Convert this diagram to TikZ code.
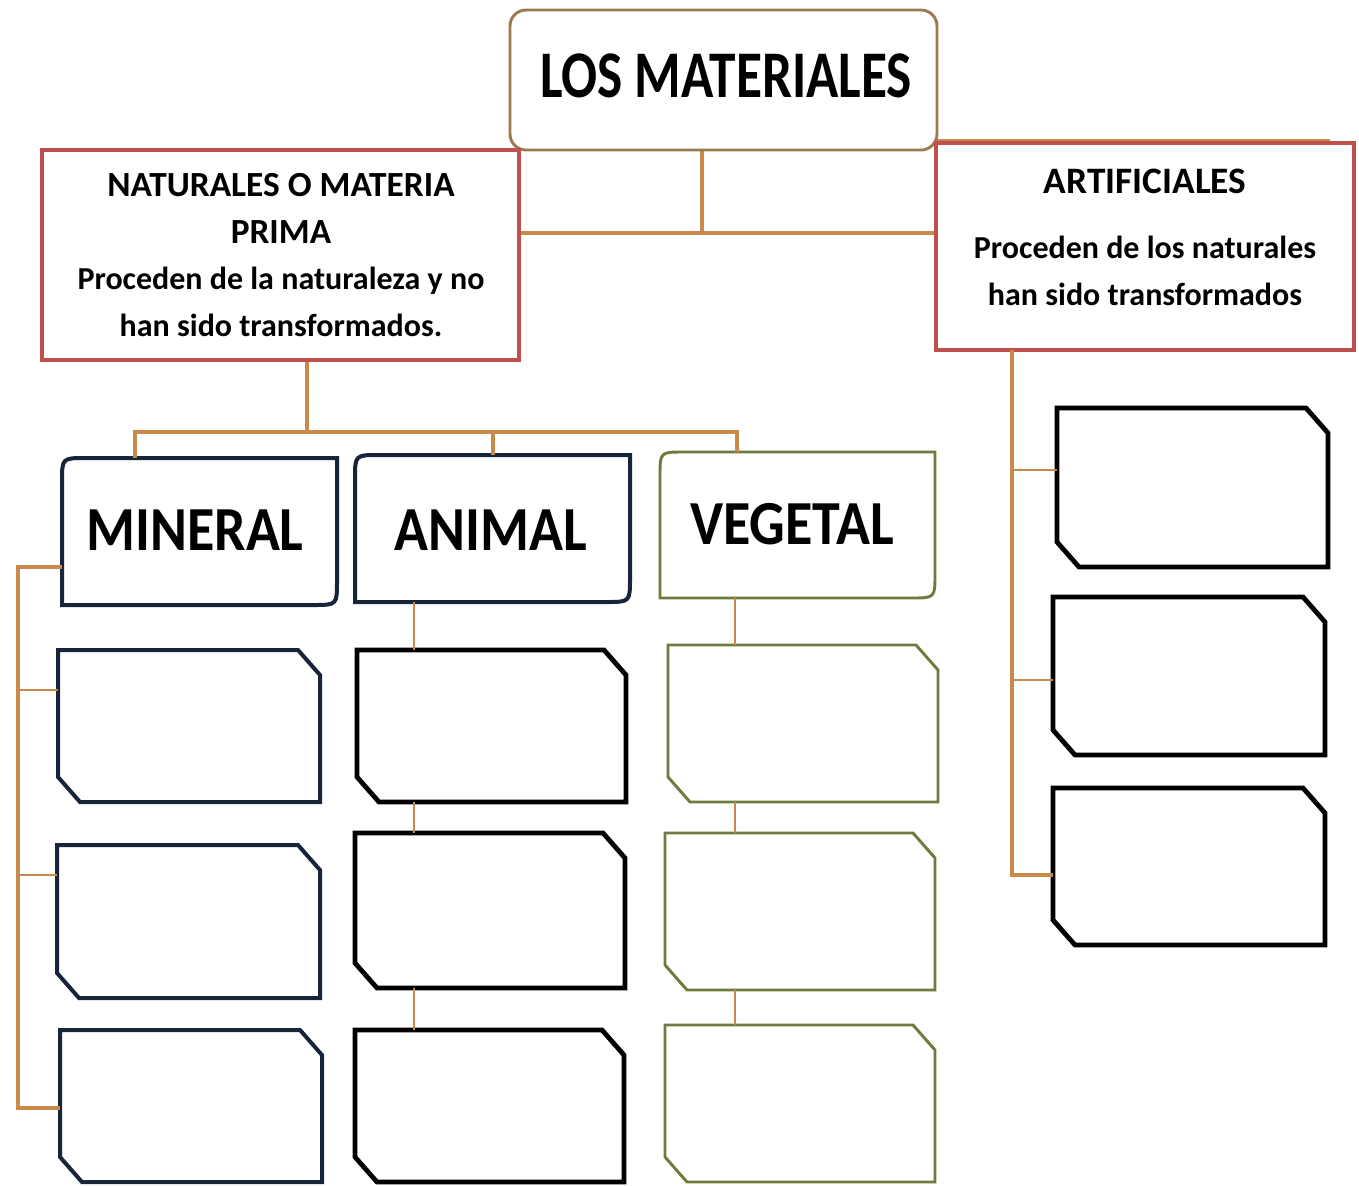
\documentclass[tikz,border=0pt]{standalone}
\usepackage{fontspec}
\usepackage{graphicx}
\setmainfont{Carlito}
\usetikzlibrary{fit,calc}
\definecolor{brownline}{HTML}{C8894B}
\definecolor{titleborder}{HTML}{9C7A50}
\definecolor{redborder}{HTML}{C0504D}
\definecolor{navy}{HTML}{17243A}
\definecolor{olive}{HTML}{6E7B3C}
\tikzset{
  conn/.style={draw=brownline, line width=3pt},
  connthin/.style={draw=brownline, line width=2.2pt},
  titlebox/.style={draw=titleborder, line width=2.2pt, fill=white, rounded corners=12pt},
  redbox/.style={draw=redborder, line width=3pt, fill=white},
  navybox/.style={draw=navy, line width=3pt, fill=white},
  olivebox/.style={draw=olive, line width=2.2pt, fill=white},
  blackbox/.style={draw=black, line width=3.6pt, fill=white},
  bigtext/.style={font=\bfseries\fontsize{42}{50}\selectfont, inner sep=0pt},
  midtext/.style={font=\bfseries\fontsize{24}{35}\selectfont, align=center, inner sep=0pt},
  fitbox/.style={inner sep=0pt, outer sep=0pt}
}
\newcommand\chbox[6]{%
  \draw[#6] (#2,#3) -- (#4-22,#3) -- (#4,#3+25) -- (#4,#5) -- (#2+22,#5) -- (#2,#5-25) -- cycle;
  \node[fitbox, fit={(#2,#3) (#4,#5)}] (#1) {};
}
\newcommand\catbox[6]{%
  \draw[#6] (#2,#3+24) .. controls (#2,#3) .. (#2+24,#3) -- (#4,#3) -- (#4,#5-24) .. controls (#4,#5) .. (#4-24,#5) -- (#2,#5) -- cycle;
  \node[fitbox, fit={(#2,#3) (#4,#5)}] (#1) {};
}
\begin{document}
\begin{tikzpicture}[x=0.75pt, y=-0.75pt]
\fill[white] (0,0) rectangle (1359,1185);
\useasboundingbox (0,0) rectangle (1359,1185);

% helper coordinates for connector routes
\coordinate (tb) at (702,233);
\coordinate (ar1) at (937,141);
\coordinate (ar2) at (1330,141);
\coordinate (nb) at (307,432);
\coordinate (nb1) at (135,432);
\coordinate (nb3) at (737,432);
\coordinate (mb) at (18,567);
\coordinate (mt1) at (18,690);
\coordinate (mt2) at (18,875);
\coordinate (mt3) at (18,1108);
\coordinate (ax) at (414,0);
\coordinate (vx) at (735,0);
\coordinate (rx) at (1012,0);
\coordinate (rt1) at (1012,470);
\coordinate (rt2) at (1012,680);
\coordinate (rt3) at (1012,875);

% boxes (nodes defined first as invisible fits for naming)
\node[fitbox, fit={(510,10) (937,150)}] (title) {};
\node[fitbox, fit={(42,150) (519,360)}] (naturales) {};
\node[fitbox, fit={(936,143) (1354,350)}] (artificiales) {};

% main connectors
\draw[conn] (tb |- title.south) -- (tb);
\draw[conn] (naturales.east |- tb) -- (artificiales.west |- tb);
\draw[conn] (ar1) -- (ar2);
\draw[conn] (nb |- naturales.south) -- (nb);

% title box
\draw[titlebox] (title.south west) rectangle (title.north east);
\node[inner sep=0pt] (titleT) at (726,76) {\scalebox{1}[1.25]{\bfseries\fontsize{40}{48}\selectfont LOS MATERIALES}};

% naturales box
\draw[redbox] (naturales.south west) rectangle (naturales.north east);
\node[midtext] (naturalesT) at (281,255) {\fontsize{26.5}{35}\selectfont NATURALES O MATERIA\\\fontsize{26.5}{35}\selectfont PRIMA\\\fontsize{24}{35}\selectfont Proceden de la naturaleza y no\\\fontsize{24}{35}\selectfont han sido transformados.};

% artificiales box
\draw[redbox] (artificiales.south west) rectangle (artificiales.north east);
\node[midtext, font=\bfseries\fontsize{28}{35}\selectfont] (artT1) at (1145,181) {ARTIFICIALES};
\node[midtext] (artT2) at (1145,271) {Proceden de los naturales\\han sido transformados};

% category boxes
\catbox{mineral}{62}{458}{337}{605}{navybox}
\catbox{animal}{355}{455}{630}{602}{navybox}
\catbox{vegetal}{660}{452}{935}{598}{olivebox}
\node[bigtext] (mineralT) at (195,530) {\scalebox{1}[1.12]{MINERAL}};
\node[bigtext] (animalT) at (491,530) {\scalebox{1}[1.12]{ANIMAL}};
\node[bigtext] (vegetalT) at (792,524) {\scalebox{1}[1.12]{VEGETAL}};

% connectors to categories
\draw[conn] (nb1 |- mineral.north) -- (nb1) -- (nb3) -- (nb3 |- vegetal.north);
\draw[conn] (animal.north) -- (animal.north |- nb1);

% empty child boxes
\chbox{m1}{58}{650}{320}{802}{navybox}
\chbox{m2}{57}{845}{320}{998}{navybox}
\chbox{m3}{60}{1030}{322}{1182}{navybox}
\chbox{a1}{357}{650}{626}{802}{blackbox}
\chbox{a2}{355}{833}{625}{988}{blackbox}
\chbox{a3}{355}{1030}{624}{1182}{blackbox}
\chbox{v1}{668}{645}{938}{802}{olivebox}
\chbox{v2}{665}{833}{935}{990}{olivebox}
\chbox{v3}{665}{1025}{935}{1182}{olivebox}
\chbox{r1}{1057}{408}{1328}{567}{blackbox}
\chbox{r2}{1053}{597}{1325}{755}{blackbox}
\chbox{r3}{1053}{788}{1325}{945}{blackbox}

% mineral column connectors
\draw[conn] (mb -| mineral.west) -- (mb) -- (mt3) -- (mt3 -| m3.west);
\draw[connthin] (mt1) -- (mt1 -| m1.west);
\draw[connthin] (mt2) -- (mt2 -| m2.west);

% animal column connectors
\draw[connthin] (ax |- animal.south) -- (ax |- a1.north);
\draw[connthin] (ax |- a1.south) -- (ax |- a2.north);
\draw[connthin] (ax |- a2.south) -- (ax |- a3.north);

% vegetal column connectors
\draw[connthin] (vx |- vegetal.south) -- (vx |- v1.north);
\draw[connthin] (vx |- v1.south) -- (vx |- v2.north);
\draw[connthin] (vx |- v2.south) -- (vx |- v3.north);

% artificiales column connectors
\draw[conn] (rx |- artificiales.south) -- (rt3) -- (rt3 -| r3.west);
\draw[connthin] (rt1) -- (rt1 -| r1.west);
\draw[connthin] (rt2) -- (rt2 -| r2.west);
\end{tikzpicture}
\end{document}
